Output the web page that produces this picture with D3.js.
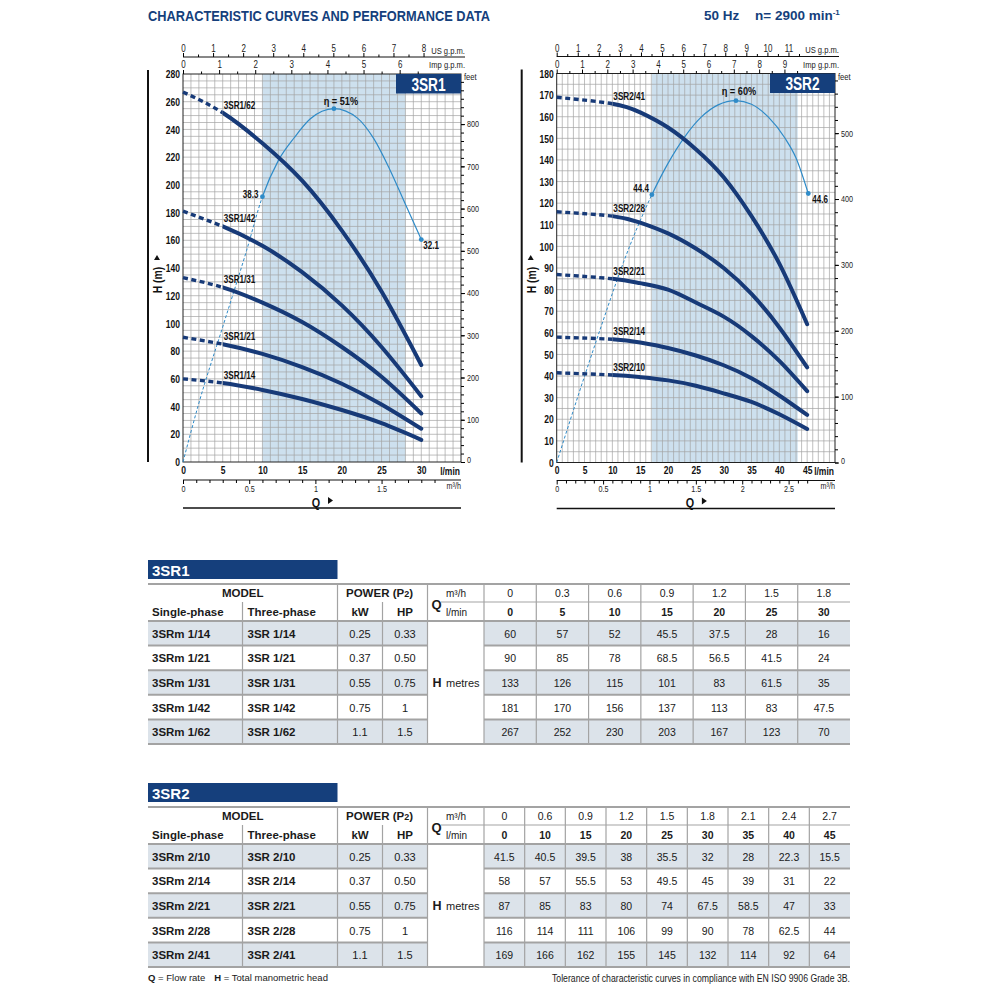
<!DOCTYPE html>
<html><head><meta charset="utf-8">
<script src="https://cdn.jsdelivr.net/npm/d3@7"></script>
<style>
body{margin:0;background:#fff;}
svg{display:block;}
</style></head><body>
<svg id="c" width="997" height="996"></svg>
<script>
// ---------------- DATA ----------------
const sr1Flow = [0, 5, 10, 15, 20, 25, 30];
const sr1FlowM3 = ["0", "0.3", "0.6", "0.9", "1.2", "1.5", "1.8"];
const sr1Curves = ["3SR1/14", "3SR1/21", "3SR1/31", "3SR1/42", "3SR1/62"];
const sr1Single = ["3SRm 1/14", "3SRm 1/21", "3SRm 1/31", "3SRm 1/42", "3SRm 1/62"];
const sr1Three = ["3SR 1/14", "3SR 1/21", "3SR 1/31", "3SR 1/42", "3SR 1/62"];
const sr1kW = ["0.25", "0.37", "0.55", "0.75", "1.1"];
const sr1HP = ["0.33", "0.50", "0.75", "1", "1.5"];
const sr1Head = [
  [60, 57, 52, 45.5, 37.5, 28, 16],
  [90, 85, 78, 68.5, 56.5, 41.5, 24],
  [133, 126, 115, 101, 83, 61.5, 35],
  [181, 170, 156, 137, 113, 83, 47.5],
  [267, 252, 230, 203, 167, 123, 70]
];
const sr1EffFlow = [0, 2, 5, 8, 10, 12, 14, 16, 19, 22, 24, 26, 28, 30];
const sr1Eff = [0, 8.5, 19.5, 30.5, 38.3, 43.5, 46.8, 49.5, 51, 49.6, 46.7, 42.3, 37.2, 32.1];
const sr1EffMarks = [10, 19, 30];
const sr1EffTexts = ["38.3", "η = 51%", "32.1"];

const sr2Flow = [0, 10, 15, 20, 25, 30, 35, 40, 45];
const sr2FlowM3 = ["0", "0.6", "0.9", "1.2", "1.5", "1.8", "2.1", "2.4", "2.7"];
const sr2Curves = ["3SR2/10", "3SR2/14", "3SR2/21", "3SR2/28", "3SR2/41"];
const sr2Single = ["3SRm 2/10", "3SRm 2/14", "3SRm 2/21", "3SRm 2/28", "3SRm 2/41"];
const sr2Three = ["3SR 2/10", "3SR 2/14", "3SR 2/21", "3SR 2/28", "3SR 2/41"];
const sr2kW = ["0.25", "0.37", "0.55", "0.75", "1.1"];
const sr2HP = ["0.33", "0.50", "0.75", "1", "1.5"];
const sr2Head = [
  [41.5, 40.5, 39.5, 38, 35.5, 32, 28, 22.3, 15.5],
  [58, 57, 55.5, 53, 49.5, 45, 39, 31, 22],
  [87, 85, 83, 80, 74, 67.5, 58.5, 47, 33],
  [116, 114, 111, 106, 99, 90, 78, 62.5, 44],
  [169, 166, 162, 155, 145, 132, 114, 92, 64]
];
const sr2EffFlow = [0, 4, 8, 12, 17.1, 20, 23, 26, 29, 32.2, 35, 38, 41, 43, 45.2];
const sr2Eff = [0, 11.5, 22.6, 33.2, 44.4, 49.6, 54, 57.3, 59.3, 60, 59.4, 57.3, 53.8, 50.5, 44.6];
const sr2EffMarks = [17.1, 32.2, 45.2];
const sr2EffTexts = ["44.4", "η = 60%", "44.6"];

// ---------------- STYLE ----------------
const svg = d3.select("#c");
const NAVY = "#153f7c";
const CURVE = "#173a78";
const EFF = "#2f8bc8";
const GRID = "#a4a4a4";
const SHADE = "#cde0ee";
const SF = '"Liberation Sans",Arial,sans-serif';

function cond(sel, f) {
  sel.each(function () {
    const n = this.getComputedTextLength();
    if (n > 0) d3.select(this).attr("textLength", n * f).attr("lengthAdjust", "spacingAndGlyphs");
  });
}

// ---------------- TITLE ----------------
svg.append("text").text("CHARACTERISTIC CURVES AND PERFORMANCE DATA")
  .attr("x", 148).attr("y", 21).attr("font-family", SF).attr("font-weight", "bold")
  .attr("font-size", 15).attr("fill", NAVY).attr("textLength", 342).attr("lengthAdjust", "spacingAndGlyphs");
svg.append("text").text("50 Hz").attr("x", 704).attr("y", 20).attr("font-family", SF)
  .attr("font-weight", "bold").attr("font-size", 13.5).attr("fill", NAVY);
const nt = svg.append("text").attr("x", 755).attr("y", 20).attr("font-family", SF)
  .attr("font-weight", "bold").attr("font-size", 13.5).attr("fill", NAVY);
nt.append("tspan").text("n= 2900 min");
nt.append("tspan").text("-1").attr("font-size", 8).attr("dy", -5);

// ---------------- CHART ----------------
function drawChart(o) {
  const g = svg.append("g");
  const x = d3.scaleLinear().domain([0, o.qMax]).range([o.left, o.right]);
  const y = d3.scaleLinear().domain([0, o.hMax]).range([o.bottom, o.top]);
  const ye = d3.scaleLinear().domain([0, o.effMax]).range([o.bottom, o.top]);
  const xUS = d3.scaleLinear().domain([0, o.qMax / 3.78541]).range([o.left, o.right]);
  const xImp = d3.scaleLinear().domain([0, o.qMax / 4.54609]).range([o.left, o.right]);
  const xM3 = d3.scaleLinear().domain([0, o.qMax * 0.06]).range([o.left, o.right]);
  const yFt = d3.scaleLinear().domain([0, o.hMax * 3.28084]).range([o.bottom, o.top]);

  g.append("rect").attr("x", x(o.shade[0])).attr("y", o.top)
    .attr("width", x(o.shade[1]) - x(o.shade[0])).attr("height", o.bottom - o.top).attr("fill", SHADE);

  g.append("g").selectAll("line").data(d3.range(1, o.qMax)).join("line")
    .attr("x1", d => x(d)).attr("x2", d => x(d)).attr("y1", o.top).attr("y2", o.bottom)
    .attr("stroke", GRID).attr("stroke-width", 0.7);
  g.append("g").selectAll("line").data(d3.range(o.hGrid, o.hMax, o.hGrid)).join("line")
    .attr("y1", d => y(d)).attr("y2", d => y(d)).attr("x1", o.left).attr("x2", o.right)
    .attr("stroke", GRID).attr("stroke-width", 0.7);

  g.append("rect").attr("x", o.left).attr("y", o.top).attr("width", o.right - o.left)
    .attr("height", o.bottom - o.top).attr("fill", "none").attr("stroke", "#222").attr("stroke-width", 1);

  // name box
  g.append("rect").attr("x", o.right - 65).attr("y", o.top).attr("width", 65).attr("height", 19.5).attr("fill", NAVY);
  g.append("text").text(o.name).attr("x", o.right - 32.5).attr("y", o.top + 16.5).attr("text-anchor", "middle")
    .attr("font-family", SF).attr("font-weight", "bold").attr("font-size", 18.5).attr("fill", "#fff")
    .attr("class", "big");

  // left axis
  const ay = g.append("g").attr("transform", `translate(${o.left},0)`)
    .call(d3.axisLeft(y).tickValues(d3.range(0, o.hMax + 1, o.hTick)).tickSize(0).tickPadding(3));
  ay.select(".domain").remove();
  ay.selectAll("text").attr("font-family", SF).attr("font-weight", "bold").attr("font-size", 11.5)
    .attr("fill", "#111").attr("class", "big");

  // bottom l/min
  const ax = g.append("g").attr("transform", `translate(0,${o.bottom})`)
    .call(d3.axisBottom(x).tickValues(o.qLabels).tickSize(0).tickPadding(3.5));
  ax.select(".domain").remove();
  ax.selectAll("text").attr("font-family", SF).attr("font-weight", "bold").attr("font-size", 11.5)
    .attr("fill", "#111").attr("class", "big");
  g.append("text").text("l/min").attr("x", o.right - 1).attr("y", o.bottom + 12.5).attr("text-anchor", "end")
    .attr("font-family", SF).attr("font-weight", "bold").attr("font-size", 11.5).attr("fill", "#111")
    .attr("class", "big");

  // m3/h axis
  const m3y = o.bottom + 18;
  const am = g.append("g").attr("transform", `translate(0,${m3y})`)
    .call(d3.axisBottom(xM3).tickValues(o.m3Major).tickFormat(d => String(d))
      .tickSize(4).tickSizeOuter(0).tickPadding(1.5));
  am.select(".domain").attr("d", `M${o.left},0H${o.right}`).attr("stroke", "#111");
  am.selectAll("text").attr("font-family", SF).attr("font-size", 9).attr("fill", "#222");
  const amn = g.append("g").attr("transform", `translate(0,${m3y})`)
    .call(d3.axisBottom(xM3).tickValues(o.m3Minor).tickSize(3).tickFormat(""));
  amn.select(".domain").remove();
  g.append("text").text("m³/h").attr("x", o.right).attr("y", o.bottom + 26.5).attr("text-anchor", "end")
    .attr("font-family", SF).attr("font-size", 9).attr("fill", "#222");

  // US gpm axis
  const usy = o.top - 17;
  const au = g.append("g").attr("transform", `translate(0,${usy})`)
    .call(d3.axisTop(xUS).tickValues(o.usMajor).tickFormat(d => String(d))
      .tickSize(4).tickSizeOuter(0).tickPadding(1));
  au.select(".domain").attr("d", `M${o.left},0H${o.right + 4}`).attr("stroke", "#111");
  au.selectAll("text").attr("font-family", SF).attr("font-size", 10).attr("fill", "#222");
  g.append("g").attr("transform", `translate(0,${usy})`)
    .call(d3.axisTop(xUS).tickValues(o.usMinor).tickSize(2.5).tickFormat(""))
    .select(".domain").remove();
  g.append("text").text("US g.p.m.").attr("x", o.right + 4).attr("y", usy - 3.5).attr("text-anchor", "end")
    .attr("font-family", SF).attr("font-size", 9.5).attr("fill", "#222");

  // Imp gpm axis
  const ai = g.append("g").attr("transform", `translate(0,${o.top})`)
    .call(d3.axisTop(xImp).tickValues(o.impMajor).tickFormat(d => String(d))
      .tickSize(4).tickSizeOuter(0).tickPadding(2));
  ai.select(".domain").remove();
  ai.selectAll("text").attr("font-family", SF).attr("font-size", 10).attr("fill", "#222");
  g.append("g").attr("transform", `translate(0,${o.top})`)
    .call(d3.axisTop(xImp).tickValues(o.impMinor).tickSize(2.5).tickFormat(""))
    .select(".domain").remove();
  g.append("text").text("Imp g.p.m.").attr("x", o.right + 4).attr("y", o.top - 6).attr("text-anchor", "end")
    .attr("font-family", SF).attr("font-size", 9.5).attr("fill", "#222");

  // feet axis
  const af = g.append("g").attr("transform", `translate(${o.right},0)`)
    .call(d3.axisRight(yFt).tickValues(o.ftMajor).tickFormat(d => String(d)).tickSize(4).tickPadding(2));
  af.select(".domain").remove();
  af.selectAll("text").attr("font-family", SF).attr("font-size", 9).attr("fill", "#222");
  af.selectAll(".tick text").filter(d => d === 0).attr("dy", "0.1em");
  g.append("g").attr("transform", `translate(${o.right},0)`)
    .call(d3.axisRight(yFt).tickValues(o.ftMinor).tickSize(3).tickFormat(""))
    .select(".domain").remove();
  g.append("text").text("feet").attr("x", o.right + 3).attr("y", o.top + 6)
    .attr("font-family", SF).attr("font-size", 9.5).attr("fill", "#222");

  // H (m) label
  const hx = o.left - 21, hy = (o.top + o.bottom) / 2 + 12;
  g.append("text").text("H (m)").attr("transform", `translate(${hx},${hy}) rotate(-90)`)
    .attr("text-anchor", "middle").attr("font-family", SF).attr("font-weight", "bold")
    .attr("font-size", 13).attr("fill", "#111");
  g.append("path").attr("d", `M${hx - 8},${hy - 20}l3,-5l3,5z`).attr("fill", "#111");
  g.append("line").attr("x1", o.left - 35).attr("x2", o.left - 35).attr("y1", o.top - 4).attr("y2", o.bottom)
    .attr("stroke", "#111").attr("stroke-width", 2);

  // Q label
  const qm = (o.left + o.right) / 2;
  g.append("text").text("Q").attr("x", qm - 6).attr("y", o.bottom + 44.5).attr("text-anchor", "middle")
    .attr("font-family", SF).attr("font-weight", "bold").attr("font-size", 13.5).attr("fill", "#111");
  g.append("path").attr("d", `M${qm + 6},${o.bottom + 35}l5,3.5l-5,3.5z`).attr("fill", "#111");
  g.append("line").attr("x1", o.left).attr("x2", o.right).attr("y1", o.bottom + 46).attr("y2", o.bottom + 46)
    .attr("stroke", "#111").attr("stroke-width", 1.6);

  // clip paths
  const defs = g.append("defs");
  const clip = (id, xa, xb) => defs.append("clipPath").attr("id", id).append("rect")
    .attr("x", xa).attr("y", o.top - 10).attr("width", xb - xa).attr("height", o.bottom - o.top + 20);
  clip(o.id + "d", o.left - 5, x(o.solidFrom));
  clip(o.id + "s", x(o.solidFrom), o.right + 10);
  clip(o.id + "ed", o.left - 5, x(o.effSolidFrom));
  clip(o.id + "es", x(o.effSolidFrom), o.right + 10);

  // efficiency curve
  const effPts = o.effFlow.map((q, i) => [q, o.eff[i]]);
  const eLine = d3.line().x(d => x(d[0])).y(d => ye(d[1])).curve(d3.curveMonotoneX);
  g.append("path").attr("d", eLine(effPts)).attr("fill", "none").attr("stroke", EFF)
    .attr("stroke-width", 1).attr("stroke-dasharray", "3,2").attr("clip-path", `url(#${o.id}ed)`);
  g.append("path").attr("d", eLine(effPts)).attr("fill", "none").attr("stroke", EFF)
    .attr("stroke-width", 1.2).attr("clip-path", `url(#${o.id}es)`);

  // pump curves
  const line = d3.line().x(d => x(d[0])).y(d => y(d[1])).curve(d3.curveNatural);
  o.heads.forEach((h, k) => {
    const pts = o.flow.map((q, i) => [q, h[i]]);
    g.append("path").attr("d", line(pts)).attr("fill", "none").attr("stroke", CURVE)
      .attr("stroke-width", 3.4).attr("stroke-dasharray", "5,3.5").attr("clip-path", `url(#${o.id}d)`);
    g.append("path").attr("d", line(pts)).attr("fill", "none").attr("stroke", CURVE)
      .attr("stroke-width", 4).attr("stroke-linecap", "round").attr("clip-path", `url(#${o.id}s)`);
    const hs = h[o.flow.indexOf(o.solidFrom)];
    g.append("text").text(o.models[k]).attr("x", x(o.solidFrom) + 1).attr("y", y(hs) - 4)
      .attr("font-family", SF).attr("font-weight", "bold").attr("font-size", 11).attr("fill", "#111")
      .attr("class", "big");
  });

  // efficiency marks
  o.effMarks.forEach((q, i) => {
    const e = o.eff[o.effFlow.indexOf(q)];
    g.append("circle").attr("cx", x(q)).attr("cy", ye(e)).attr("r", 2.4).attr("fill", EFF);
    const p = o.effLabelPos[i];
    g.append("text").text(o.effTexts[i]).attr("x", x(q) + p.dx).attr("y", ye(e) + p.dy)
      .attr("text-anchor", p.anchor).attr("font-family", SF).attr("font-weight", "bold")
      .attr("font-size", i === 1 ? 11.5 : 10).attr("fill", "#111");
  });

  g.selectAll("text.big").call(cond, 0.74);
  g.selectAll("text:not(.big)").call(cond, 0.8);
}

const tenths = (a, b) => d3.range(a, b).filter(i => i % 5 !== 0).map(i => i / 10);

drawChart({
  id: "a", name: "3SR1", left: 183, right: 461, top: 74, bottom: 462,
  qMax: 35, hMax: 280, hTick: 20, hGrid: 5, shade: [10, 28], effMax: 56,
  qLabels: sr1Flow,
  usMajor: d3.range(0, 9), usMinor: d3.range(0, 8).map(d => d + 0.5),
  impMajor: d3.range(0, 7), impMinor: d3.range(0, 7).map(d => d + 0.5),
  m3Major: [0, 0.5, 1, 1.5], m3Minor: tenths(1, 20),
  ftMajor: d3.range(0, 900, 100), ftMinor: d3.range(0, 920, 20),
  flow: sr1Flow, heads: sr1Head, models: sr1Curves, solidFrom: 5,
  effFlow: sr1EffFlow, eff: sr1Eff, effSolidFrom: 10, effMarks: sr1EffMarks, effTexts: sr1EffTexts,
  effLabelPos: [{dx: -4, dy: 1, anchor: "end"}, {dx: 7, dy: -4, anchor: "middle"}, {dx: 2, dy: 9, anchor: "start"}]
});
drawChart({
  id: "b", name: "3SR2", left: 556.7, right: 835, top: 73.5, bottom: 462.5,
  qMax: 50, hMax: 180, hTick: 10, hGrid: 5, shade: [17.1, 43.3], effMax: 64.5,
  qLabels: [0, 5, 10, 15, 20, 25, 30, 35, 40, 45],
  usMajor: d3.range(0, 12), usMinor: d3.range(0, 12).map(d => d + 0.5),
  impMajor: d3.range(0, 10), impMinor: d3.range(0, 10).map(d => d + 0.5),
  m3Major: [0, 0.5, 1, 1.5, 2, 2.5], m3Minor: tenths(1, 28),
  ftMajor: d3.range(0, 600, 100), ftMinor: d3.range(0, 590, 20),
  flow: sr2Flow, heads: sr2Head, models: sr2Curves, solidFrom: 10,
  effFlow: sr2EffFlow, eff: sr2Eff, effSolidFrom: 17.1, effMarks: sr2EffMarks, effTexts: sr2EffTexts,
  effLabelPos: [{dx: -3, dy: -3, anchor: "end"}, {dx: 3, dy: -6, anchor: "middle"}, {dx: 4, dy: 9, anchor: "start"}]
});

// ---------------- TABLES ----------------
function drawTable(t) {
  const g = svg.append("g");
  const L = 148, R = 850, cSingle = 242.5, cPow = 337.5, cHP = 382.5, cQ = 427.5, cVal = 484;
  const mid = t.top + 18, hb = t.top + 37;
  const rowH = (t.bottom - hb) / 5;
  const vx = d3.scaleBand().domain(d3.range(t.flowL.length)).range([cVal, R]);
  const ry = d3.scaleBand().domain(d3.range(5)).range([hb, t.bottom]);
  const LINE = "#a3a3a3";

  g.append("rect").attr("x", L).attr("y", t.top - 24).attr("width", 189.5).attr("height", 19).attr("fill", NAVY);
  g.append("text").text(t.name).attr("x", L + 4).attr("y", t.top - 8.5).attr("font-family", SF)
    .attr("font-weight", "bold").attr("font-size", 15).attr("fill", "#fff");

  [0, 2, 4].forEach(i => {
    g.append("rect").attr("x", L).attr("y", ry(i)).attr("width", cQ - L).attr("height", rowH).attr("fill", "#dce3ea");
    g.append("rect").attr("x", cVal).attr("y", ry(i)).attr("width", R - cVal).attr("height", rowH).attr("fill", "#dce3ea");
  });

  const hl = (x1, x2, yy, w) => g.append("line").attr("x1", x1).attr("x2", x2).attr("y1", yy).attr("y2", yy)
    .attr("stroke", LINE).attr("stroke-width", w);
  hl(L, R, t.top, 2);
  hl(441, R, mid, 1.2);
  hl(L, R, hb, 2);
  d3.range(1, 5).forEach(i => { hl(L, cQ, ry(i), 2); hl(cVal, R, ry(i), 2); });
  hl(L, R, t.bottom, 2);

  const vl = (xx, y1) => g.append("line").attr("x1", xx).attr("x2", xx).attr("y1", y1).attr("y2", t.bottom)
    .attr("stroke", LINE).attr("stroke-width", 1.2);
  vl(cSingle, mid); vl(cHP, mid); vl(cPow, t.top); vl(cQ, t.top); vl(cVal, t.top);
  d3.range(1, t.flowL.length).forEach(i => vl(vx(i), t.top));

  const txt = (s, xx, yy, opt) => g.append("text").text(s).attr("x", xx).attr("y", yy)
    .attr("font-family", SF).attr("font-size", opt.size || 11).attr("font-weight", opt.bold ? "bold" : "normal")
    .attr("text-anchor", opt.anchor || "start").attr("fill", "#1a1a1a");

  txt("MODEL", (L + cPow) / 2, t.top + 13, {bold: true, size: 11.5, anchor: "middle"});
  const pw = txt("POWER (P", (cPow + cQ) / 2 - 3, t.top + 13, {bold: true, size: 11.5, anchor: "middle"});
  pw.append("tspan").text("2").attr("font-size", 9);
  pw.append("tspan").text(")");
  txt("Single-phase", L + 4, t.top + 32, {bold: true, size: 11.5});
  txt("Three-phase", cSingle + 5, t.top + 32, {bold: true, size: 11.5});
  txt("kW", (cPow + cHP) / 2, t.top + 32, {bold: true, size: 11.5, anchor: "middle"});
  txt("HP", (cHP + cQ) / 2, t.top + 32, {bold: true, size: 11.5, anchor: "middle"});
  txt("Q", cQ + 4, t.top + 25, {bold: true, size: 13});
  txt("m³/h", 446, t.top + 13, {size: 10});
  txt("l/min", 446, t.top + 32, {size: 10});

  t.flowM3.forEach((s, i) => txt(s, vx(i) + vx.bandwidth() / 2, t.top + 13, {size: 10.5, anchor: "middle"}));
  t.flowL.forEach((s, i) => txt(String(s), vx(i) + vx.bandwidth() / 2, t.top + 32, {size: 10.5, bold: true, anchor: "middle"}));

  d3.range(5).forEach(r => {
    const by = ry(r) + rowH / 2 + 4.5;
    txt(t.single[r], L + 4, by, {bold: true, size: 11.5});
    txt(t.three[r], cSingle + 5, by, {bold: true, size: 11.5});
    txt(t.kW[r], (cPow + cHP) / 2, by, {size: 11, anchor: "middle"});
    txt(t.HP[r], (cHP + cQ) / 2, by, {size: 11, anchor: "middle"});
    t.head[r].forEach((v, i) => txt(String(v), vx(i) + vx.bandwidth() / 2, by, {size: 10.5, anchor: "middle"}));
  });
  const hy = ry(2) + rowH / 2 + 4.5;
  txt("H", cQ + 5, hy, {bold: true, size: 12.5});
  txt("metres", 446, hy, {size: 11});
}

drawTable({name: "3SR1", top: 584, bottom: 744, flowM3: sr1FlowM3, flowL: sr1Flow,
  single: sr1Single, three: sr1Three, kW: sr1kW, HP: sr1HP, head: sr1Head});
drawTable({name: "3SR2", top: 807, bottom: 967, flowM3: sr2FlowM3, flowL: sr2Flow,
  single: sr2Single, three: sr2Three, kW: sr2kW, HP: sr2HP, head: sr2Head});

// ---------------- FOOTNOTES ----------------
const f1 = svg.append("text").attr("x", 148).attr("y", 981).attr("font-family", SF).attr("font-size", 9.5).attr("fill", "#1a1a1a");
f1.append("tspan").text("Q").attr("font-weight", "bold");
f1.append("tspan").text(" = Flow rate");
f1.append("tspan").text("H").attr("font-weight", "bold").attr("dx", 9);
f1.append("tspan").text(" = Total manometric head");
svg.append("text").text("Tolerance of characteristic curves in compliance with EN ISO 9906 Grade 3B.")
  .attr("x", 850).attr("y", 982).attr("text-anchor", "end").attr("font-family", SF).attr("font-size", 10)
  .attr("fill", "#1a1a1a").attr("textLength", 298).attr("lengthAdjust", "spacingAndGlyphs");
</script></body></html>
